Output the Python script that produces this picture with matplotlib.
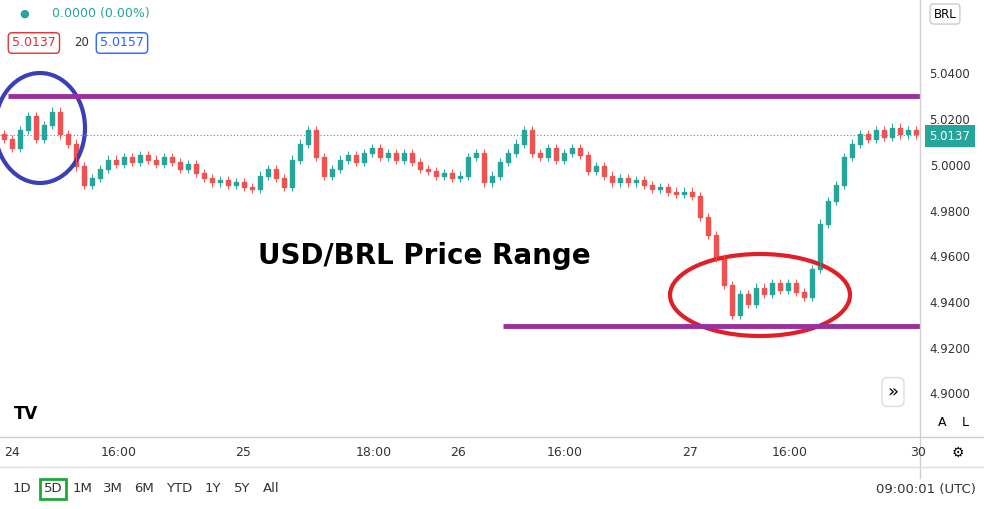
import matplotlib
matplotlib.use("Agg")
import matplotlib.pyplot as plt
from matplotlib.patches import Ellipse, Rectangle

closes = [5.012,5.008,5.016,5.022,5.012,5.018,5.024,5.014,5.010,5.000,4.992,4.995,4.999,5.003,5.001,5.004,5.002,5.005,5.003,5.001,
          5.004,5.002,4.999,5.001,4.997,4.995,4.993,4.994,4.992,4.993,4.991,4.990,4.996,4.999,4.995,4.991,5.003,5.010,5.016,5.004,
          4.996,4.999,5.003,5.005,5.002,5.006,5.008,5.004,5.006,5.003,5.006,5.002,4.999,4.998,4.996,4.997,4.995,4.996,5.004,5.006,
          4.993,4.996,5.002,5.006,5.010,5.016,5.006,5.004,5.008,5.003,5.006,5.008,5.005,4.998,5.000,4.996,4.993,4.995,4.993,4.994,
          4.992,4.990,4.991,4.989,4.988,4.989,4.987,4.978,4.970,4.960,4.948,4.935,4.944,4.940,4.947,4.944,4.949,4.946,4.949,4.945,
          4.943,4.955,4.975,4.985,4.992,5.004,5.010,5.014,5.012,5.016,5.013,5.017,5.014,5.016,5.014]
opens = [5.014] + closes[:-1]
xtick_pos = [12, 119, 243, 374, 458, 565, 690, 790, 918]
xtick_labels = ["24", "16:00", "25", "18:00", "26", "16:00", "27", "16:00", "30"]
ytick_vals = [5.04, 5.02, 5.00, 4.98, 4.96, 4.94, 4.92, 4.90]
resistance = 5.0308
support = 4.9302
last_price = 5.0137

W, H = 984, 509
fig = plt.figure(figsize=(W/100, H/100), dpi=100)
fig.patch.set_facecolor("white")
ax = fig.add_axes([0, (H-437)/H, 920/W, 437/H])
ax.set_xlim(0, 920)
ax.set_ylim(4.8816, 5.0728)
ax.axis("off")

up, dn = "#26a69a", "#ef5350"
for i, (o, c) in enumerate(zip(opens, closes)):
    x = 4 + 8*i
    col = up if c >= o else dn
    lo, hi = min(o, c), max(o, c)
    ax.vlines(x, lo-0.0018, hi+0.0018, color=col, lw=0.7)
    ax.add_patch(Rectangle((x-1.6, lo), 3.2, max(hi-lo, 0.0004), color=col))

ax.axhline(last_price, color=up, lw=0.8, ls=(0, (1, 2)))
ax.hlines(resistance, 8, 920, color="#9c2fa0", lw=3.5)
ax.hlines(support, 503, 920, color="#9c2fa0", lw=3.5)

def pxh(h):
    return h*(5.0728-4.8816)/437
ax.add_patch(Ellipse((40, 5.0728-pxh(128)), 90, pxh(110), fill=False, ec="#3a3fb8", lw=3))
ax.add_patch(Ellipse((760, 5.0728-pxh(295)), 180, pxh(82), fill=False, ec="#e01f26", lw=3))
ax.text(258, 5.0728-pxh(256), "USD/BRL Price Range", fontsize=20, fontweight="bold", va="center", ha="left")

for v in ytick_vals:
    fig.text(950/W, (H-(5.0728-v)/(5.0728-4.8816)*437)/H, f"{v:.4f}", fontsize=8.5, color="#333", ha="center", va="center")
fig.text(950/W, 1-(136)/H, f"{last_price:.4f}", fontsize=8.5, color="white", ha="center", va="center",
         bbox=dict(boxstyle="square,pad=0.35", fc=up, ec="none"))
fig.add_artist(plt.Line2D([920/W, 920/W], [0.06, 1], color="#d0d0d0", lw=1))
fig.add_artist(plt.Line2D([0, 1], [(H-437)/H]*2, color="#d0d0d0", lw=1))
fig.add_artist(plt.Line2D([0, 1], [(H-467)/H]*2, color="#e0e0e0", lw=1))
fig.text(945/W, 1-14/H, "BRL", fontsize=8.5, ha="center", va="center",
         bbox=dict(boxstyle="round,pad=0.3", fc="white", ec="#ccc"))
fig.text(942/W, 1-422/H, "A", fontsize=9, ha="center", va="center")
fig.text(965/W, 1-422/H, "L", fontsize=9, ha="center", va="center")
fig.text(958/W, 1-453/H, "⚙", fontsize=10, ha="center", va="center")
fig.text(893/W, 1-392/H, "»", fontsize=13, ha="center", va="center",
         bbox=dict(boxstyle="round,pad=0.3", fc="white", ec="#ddd"))

for p, l in zip(xtick_pos, xtick_labels):
    fig.text(p/W, 1-452/H, l, fontsize=9, color="#333", ha="center", va="center")

fig.text(24/W, 1-14/H, "●", fontsize=8, color=up, ha="center", va="center")
fig.text(52/W, 1-14/H, "0.0000 (0.00%)", fontsize=9, color=up, ha="left", va="center")
fig.text(12/W, 1-43/H, "5.0137", fontsize=9, color="#e03030", ha="left", va="center",
         bbox=dict(boxstyle="round,pad=0.3", fc="white", ec="#e03030"))
fig.text(74/W, 1-43/H, "20", fontsize=8.5, color="#333", ha="left", va="center")
fig.text(100/W, 1-43/H, "5.0157", fontsize=9, color="#2962ff", ha="left", va="center",
         bbox=dict(boxstyle="round,pad=0.3", fc="white", ec="#2962ff"))
fig.text(14/W, 1-414/H, "TV", fontsize=12, fontweight="bold", ha="left", va="center")

tb = [("1D", 22), ("5D", 53), ("1M", 83), ("3M", 113), ("6M", 144), ("YTD", 179), ("1Y", 213), ("5Y", 242), ("All", 271)]
for t, x in tb:
    kw = {}
    if t == "5D":
        kw["bbox"] = dict(boxstyle="square,pad=0.3", fc="white", ec="#1ea838", lw=2)
    fig.text(x/W, 1-489/H, t, fontsize=9.5, color="#333", ha="center", va="center", **kw)
fig.text(976/W, 1-489/H, "09:00:01 (UTC)", fontsize=9.5, color="#333", ha="right", va="center")

fig.savefig("out.png", dpi=100)
